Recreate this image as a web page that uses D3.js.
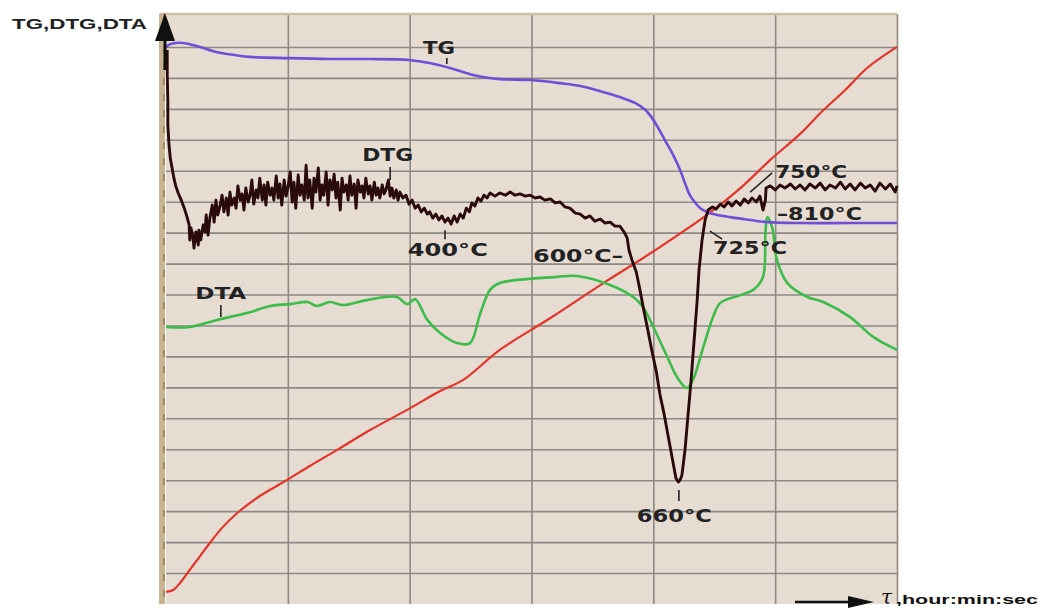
<!DOCTYPE html>
<html><head><meta charset="utf-8">
<script src="https://cdn.jsdelivr.net/npm/d3@7/dist/d3.min.js"></script>
<style>body{margin:0;background:#fff}svg{display:block}</style>
</head><body><svg id="c" width="1050" height="609"></svg>
<script>
// time in minutes (x), signal in arbitrary units (y)
const xGridTicks = [20, 40, 60, 80, 100, 120];
const yGridTicks = [10,20,30,40,50,60,70,80,90,100,110,120,130,140,150,160,170,180];

const tgSeries = [[0,180.0],[0.7,180.9],[1.6,181.3],[2.8,181.3],[3.9,180.9],[5.6,180.0],[8.4,178.3],[11.3,177.4],[13.8,176.8],[20.0,176.4],[26.9,176.1],[33.5,176.1],[39.9,175.8],[43.3,174.8],[46.6,173.2],[49.9,171.2],[52.0,170.3],[54.8,169.6],[59.9,169.3],[64.7,168.3],[68.0,167.4],[71.3,165.7],[74.5,163.8],[77.0,161.9],[78.7,159.6],[79.8,157.0],[80.8,153.8],[81.9,149.9],[83.1,145.7],[84.4,140.2],[85.2,136.0],[86.0,132.1],[86.9,129.6],[87.7,127.9],[88.8,126.7],[89.8,126.0],[92.6,125.0],[95.9,124.1],[98.7,123.4],[104.1,123.1],[112.3,123.1],[120.0,123.1]];

const tempSeries = [[0,3.9],[1.15,4.5],[2.3,6.8],[3.9,11.0],[5.6,15.5],[7.2,19.7],[9.2,24.6],[11.7,29.4],[15.4,34.9],[19.9,40.1],[23.6,44.6],[28.1,49.8],[33.5,56.2],[40.1,63.3],[45.0,68.8],[48.8,72.4],[54.8,82.1],[63.1,92.4],[71.8,103.7],[77.3,110.5],[82.8,117.6],[88.8,125.7],[94.3,134.4],[99.2,143.5],[104.1,151.9],[107.4,158.6],[111.5,166.1],[115.1,173.2],[120,180.0]];

const dtaSeries = [[0,89.5],[3.9,89.5],[8.4,91.8],[13.8,94.3],[17.1,96.3],[20.4,96.9],[23.2,97.6],[24.8,96.3],[26.9,97.6],[29.1,96.6],[33.0,98.2],[37.9,99.2],[39.6,96.9],[40.9,98.5],[42.9,91.8],[45.0,87.6],[47.8,84.3],[49.9,84.3],[51.6,94.0],[53.2,101.5],[54.8,103.7],[64.2,105.7],[67.5,106.0],[72.9,103.1],[76.7,99.2],[78.3,96.0],[80.0,89.5],[82.3,79.8],[83.9,73.3],[85.5,69.8],[86.5,72.4],[88.2,83.0],[89.8,92.7],[91.0,97.3],[94.3,99.8],[96.4,101.5],[98.0,105.7],[98.4,119.9],[98.7,125.0],[99.5,121.8],[100.3,111.1],[102.0,103.7],[105.3,99.2],[107.9,97.6],[112.3,92.7],[116.1,86.3],[120,82.1]];

const dtgSeries = [[0.2,179.0],[0.2,170.9],[0.3,162.8],[0.3,154.8],[0.5,148.3],[0.7,144.1],[1.0,140.9],[1.3,137.6],[1.6,135.1],[2.0,132.8],[2.5,130.5],[3.0,127.9],[3.4,125.4],[3.8,122.5],[3.9,117.6],[4.1,121.5],[4.4,118.9],[4.6,115.0],[4.9,120.2],[5.3,116.0],[5.4,120.8],[5.7,117.6],[6.1,122.5],[6.4,120.2],[6.6,125.7],[6.9,119.2],[7.2,124.7],[7.6,128.9],[7.9,123.4],[8.2,130.5],[8.5,125.7],[8.9,128.9],[9.2,132.1],[9.5,126.7],[9.9,131.2],[10.2,125.7],[10.5,133.1],[10.8,128.9],[11.2,131.2],[11.5,127.9],[11.8,135.1],[12.2,130.5],[12.5,132.5],[12.8,127.3],[13.1,134.4],[13.5,129.9],[13.8,132.1],[14.1,137.0],[14.4,129.2],[14.8,133.8],[15.1,131.2],[15.4,137.6],[15.8,130.5],[16.1,135.4],[16.4,128.9],[16.7,136.3],[17.1,132.1],[17.4,134.4],[17.7,130.5],[18.1,138.3],[18.4,131.2],[18.7,135.7],[19.0,128.9],[19.4,137.0],[19.7,131.8],[20.0,134.4],[20.4,139.6],[20.7,129.9],[21.0,136.3],[21.3,127.9],[21.7,138.6],[22.0,132.1],[22.3,135.4],[22.7,130.5],[23.0,141.8],[23.3,131.2],[23.6,137.0],[24.0,127.9],[24.3,137.6],[24.6,133.1],[25.0,140.9],[25.3,130.5],[25.6,135.4],[25.9,132.1],[26.3,139.6],[26.6,128.9],[26.9,137.0],[27.3,133.8],[27.6,138.9],[27.9,131.2],[28.2,136.3],[28.6,127.3],[28.9,137.6],[29.2,133.1],[29.6,135.4],[29.9,130.5],[30.2,138.3],[30.5,132.1],[30.9,135.7],[31.2,127.9],[31.5,137.0],[31.9,133.1],[32.2,135.1],[32.5,131.2],[32.8,137.6],[33.2,132.5],[33.5,135.1],[33.8,130.5],[34.2,136.3],[34.5,132.1],[34.8,134.4],[35.1,131.2],[35.5,135.4],[35.8,132.5],[36.1,133.8],[36.5,137.0],[36.8,131.8],[37.1,134.4],[37.4,131.2],[37.8,133.8],[38.1,130.5],[38.4,133.1],[38.9,131.2],[39.4,132.1],[39.9,129.2],[40.4,130.5],[40.9,127.9],[41.4,128.9],[41.9,126.7],[42.4,127.9],[42.9,126.0],[43.3,126.7],[43.8,124.7],[44.3,126.0],[44.8,124.1],[45.3,125.4],[45.8,123.4],[46.3,124.7],[46.8,122.8],[47.3,125.4],[47.8,123.4],[48.3,126.0],[48.8,124.7],[49.3,127.9],[49.8,126.7],[50.2,129.6],[50.7,128.6],[51.2,131.2],[51.7,130.2],[52.2,132.1],[52.7,131.2],[53.2,132.8],[54.0,131.8],[54.8,132.8],[55.7,132.1],[56.5,133.1],[57.3,132.1],[58.1,132.5],[59.0,131.8],[59.8,132.1],[60.6,131.2],[61.4,131.5],[62.2,130.5],[63.1,130.9],[63.9,129.6],[64.7,129.9],[65.5,128.3],[66.3,127.9],[67.2,126.3],[68.0,126.0],[68.8,124.7],[69.6,125.4],[70.4,123.7],[71.3,124.4],[72.1,123.1],[72.9,123.4],[73.7,122.1],[74.5,122.1],[75.2,120.2],[75.7,118.3],[76.0,114.4],[76.5,111.1],[77.2,107.3],[77.8,101.5],[78.5,94.3],[79.1,88.5],[79.8,81.4],[80.5,75.0],[81.1,67.5],[81.8,61.1],[82.4,54.6],[83.1,47.2],[83.7,40.7],[84.1,39.4],[84.4,40.1],[84.7,41.7],[85.2,49.8],[85.7,61.1],[86.2,72.4],[86.7,85.3],[87.2,98.2],[87.5,107.9],[88.0,117.6],[88.5,124.1],[89.0,127.3],[89.7,128.3],[90.3,127.6],[91.0,129.2],[91.6,128.3],[92.3,129.9],[92.9,128.6],[93.6,130.2],[94.3,128.9],[94.9,130.9],[95.6,129.6],[96.2,131.2],[96.9,129.9],[97.5,131.8],[98.0,127.3],[98.4,130.5],[98.5,134.4],[99.2,135.1],[100.0,133.8],[100.8,135.4],[101.6,134.4],[102.5,135.7],[103.3,134.1],[104.1,135.4],[104.9,133.8],[105.7,135.7],[106.6,134.4],[107.4,136.0],[108.2,133.8],[109.0,135.4],[109.9,134.4],[110.7,136.3],[111.5,134.1],[112.3,135.7],[113.1,133.8],[114.0,136.0],[114.8,134.4],[115.6,135.4],[116.4,133.4],[117.2,136.0],[118.1,134.1],[118.9,135.7],[119.7,133.1],[120.0,135.1]];

// annotation labels
const labelTexts = ["TG", "DTG", "DTA", "400°C", "600°C–", "725°C", "750°C", "–810°C", "660°C"];
const labelAnchors = [[42.2,177.7],[32.2,143.1],[4.8,98.5],[39.7,112.4],[60.3,110.5],[89.8,113.1],[100.0,137.6],[100.3,124.1],[77.3,26.5]];
const labelWidths = [32, 51, 51, 80, 90, 74, 72, 85, 75];
const labelSizes = [18, 18, 16, 18, 18, 18, 18, 18, 18];
// leader ticks: [t1, v1, t2, v2]
const leaders = [[46.1,176.4,46.1,174.5],[36.8,141.2,36.8,137.0],[9.0,96.6,9.0,92.7],[45.8,120.8,45.8,117.9],[84.2,36.8,84.2,33.3],[89.3,120.5,91.3,117.9],[95.9,133.1,99.5,139.3]];

const svg = d3.select("#c");
const x = d3.scaleLinear().domain([0, 120]).range([166, 897]);
const y = d3.scaleLinear().domain([0, 190]).range([604, 16]);
const plotTop = 14;

// plot background
svg.append("rect").attr("x", x(0)).attr("y", plotTop).attr("width", x(120) - x(0)).attr("height", y(0) - plotTop).attr("fill", "#e7dcd2");

// grid via axes
const gx = svg.append("g").attr("transform", `translate(0,${y(0)})`)
  .call(d3.axisBottom(x).tickValues(xGridTicks).tickSize(-(y(0) - plotTop)).tickFormat(""));
gx.select(".domain").remove();
gx.selectAll("line").attr("stroke", "#8d8984").attr("stroke-width", 1.6);
const gy = svg.append("g").attr("transform", `translate(${x(0)},0)`)
  .call(d3.axisLeft(y).tickValues(yGridTicks).tickSize(-(x(120) - x(0))).tickFormat(""));
gy.select(".domain").remove();
gy.selectAll("line").attr("stroke", "#8d8984").attr("stroke-width", 1.6);

// borders
svg.append("line").attr("x1", x(0) - 6).attr("x2", x(120)).attr("y1", plotTop).attr("y2", plotTop).attr("stroke", "#cfc0a2").attr("stroke-width", 2.5);
svg.append("line").attr("x1", x(0) - 4).attr("x2", x(0) - 4).attr("y1", plotTop).attr("y2", y(0)).attr("stroke", "#c8b491").attr("stroke-width", 6);
svg.append("line").attr("x1", x(0) - 2).attr("x2", x(0) - 2).attr("y1", plotTop).attr("y2", y(0)).attr("stroke", "#9b7a4a").attr("stroke-width", 1.5).attr("stroke-dasharray", "7 9");

// curves
const line = d3.line().x(d => x(d[0])).y(d => y(d[1]));
const smooth = d3.line().x(d => x(d[0])).y(d => y(d[1])).curve(d3.curveCatmullRom.alpha(0.5));
svg.append("path").datum(tempSeries).attr("d", smooth).attr("fill", "none").attr("stroke", "#e3342b").attr("stroke-width", 2.2);
svg.append("path").datum(dtaSeries).attr("d", smooth).attr("fill", "none").attr("stroke", "#3cbd4b").attr("stroke-width", 2.6);
svg.append("path").datum(tgSeries).attr("d", smooth).attr("fill", "none").attr("stroke", "#6f4fd6").attr("stroke-width", 2.6);
svg.append("path").datum(dtgSeries).attr("d", line).attr("fill", "none").attr("stroke", "#2a0b0c").attr("stroke-width", 2.9).attr("stroke-linejoin", "round");

// y axis arrow
svg.append("line").attr("x1", x(0) - 1).attr("x2", x(0) - 1).attr("y1", 38).attr("y2", 70).attr("stroke", "#111").attr("stroke-width", 3);
svg.append("path").attr("d", `M${x(0) - 1},${plotTop - 1} L${x(0) - 11},${plotTop + 27} L${x(0) + 9},${plotTop + 27} Z`).attr("fill", "#111");

// annotations
const font = "'DejaVu Sans', sans-serif";
labelTexts.forEach((t, i) => {
  svg.append("text").attr("x", x(labelAnchors[i][0])).attr("y", y(labelAnchors[i][1]))
    .attr("font-family", font).attr("font-weight", "bold").attr("font-size", labelSizes[i])
    .attr("fill", "#222").attr("textLength", labelWidths[i]).attr("lengthAdjust", "spacingAndGlyphs").text(t);
});
leaders.forEach(l => {
  svg.append("line").attr("x1", x(l[0])).attr("y1", y(l[1])).attr("x2", x(l[2])).attr("y2", y(l[3]))
    .attr("stroke", "#222").attr("stroke-width", 1.6);
});

// axis titles
svg.append("text").attr("x", 12).attr("y", 29).attr("font-family", "'Liberation Sans', Arial, sans-serif")
  .attr("font-weight", "bold").attr("font-size", 15).attr("fill", "#222").attr("textLength", 135).attr("lengthAdjust", "spacingAndGlyphs").text("TG,DTG,DTA");
svg.append("line").attr("x1", 795).attr("x2", 855).attr("y1", 602).attr("y2", 602).attr("stroke", "#111").attr("stroke-width", 2.5);
svg.append("path").attr("d", "M874,602 L848,596 L848,608 Z").attr("fill", "#111");
svg.append("text").attr("x", 881).attr("y", 604).attr("fill", "#111")
  .attr("font-family", "'DejaVu Serif', serif").attr("font-style", "italic").attr("font-size", 20).text("τ");
svg.append("text").attr("x", 896).attr("y", 604).attr("fill", "#111")
  .attr("font-family", "'Liberation Sans', Arial, sans-serif").attr("font-weight", "bold").attr("font-size", 13)
  .attr("textLength", 142).attr("lengthAdjust", "spacingAndGlyphs").text(",hour:min:sec");
</script>
</body></html>
